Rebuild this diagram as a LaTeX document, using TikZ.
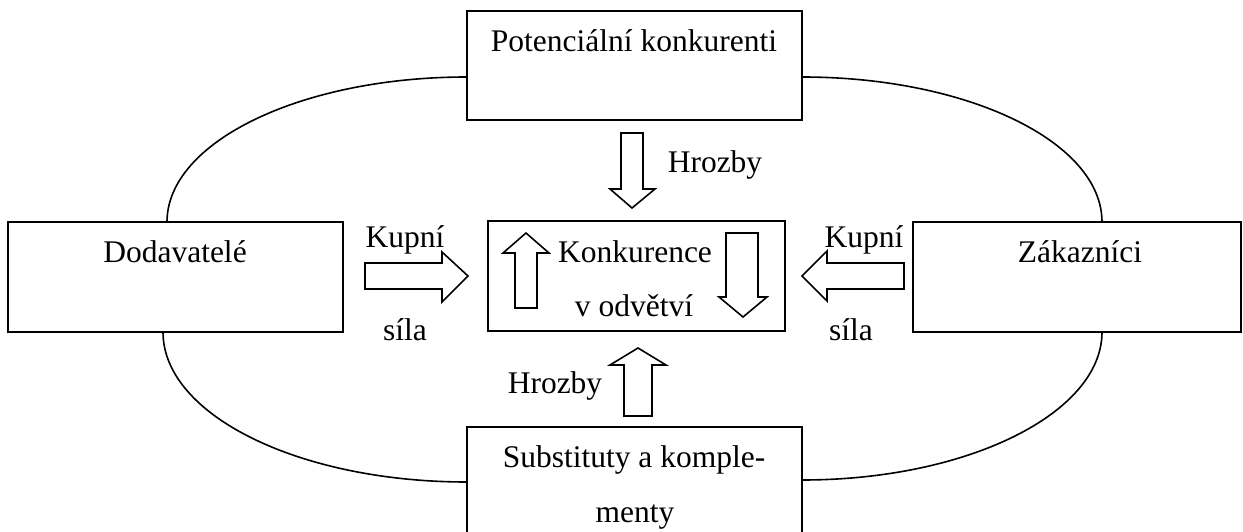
\documentclass[tikz,border=0pt]{standalone}
\usepackage{fontspec}
\setmainfont{Liberation Serif}
\usetikzlibrary{calc}
\begin{document}
\begin{tikzpicture}[x=1pt,y=-1pt,
  box/.style={draw,line width=1.6pt,rectangle,inner sep=0pt,outer sep=0pt,anchor=north west},
  lbl/.style={anchor=base,inner sep=0pt,font=\fontsize{31.5}{38}\selectfont},
  blockarrow/.style={draw,line width=1.6pt,line join=miter,fill=white},
  link/.style={draw,line width=1.6pt}]
\useasboundingbox (0,0) rectangle (1243,532);
\clip (0,0) rectangle (1243,532);

% the five boxes
\node[box,minimum width=335pt,minimum height=109pt] (top)    at (467,11)  {};
\node[box,minimum width=335pt,minimum height=110pt] (left)   at (8,222)   {};
\node[box,minimum width=328pt,minimum height=110pt] (right)  at (913,222) {};
\node[box,minimum width=297pt,minimum height=110pt] (centre) at (488,221) {};
\node[box,minimum width=335pt,minimum height=130pt] (bottom) at (467,427) {};

% box texts
\node[lbl] (t1) at (634,52)  {Potenciální konkurenti};
\node[lbl] (t2) at (175,262) {Dodavatelé};
\node[lbl] (t3) at (1080,262) {Zákazníci};
\node[lbl] (t4) at (635,262) {Konkurence};
\node[lbl] (t5) at (634,316) {v odvětví};
\node[lbl] (t6) at (634,467) {Substituty a komple-};
\node[lbl] (t7) at (635,522) {menty};

% arrow labels
\node[lbl] (h1) at (715,172) {Hrozby};
\node[lbl] (h2) at (555,393) {Hrozby};
\node[lbl] (k1) at (405,247) {Kupní};
\node[lbl] (s1) at (405,340) {síla};
\node[lbl] (k2) at (864,247) {Kupní};
\node[lbl] (s2) at (851,340) {síla};

% ellipse quarters linking the outer boxes
\coordinate (tw) at ($(top.north west)+(0,66)$);
\coordinate (te) at ($(top.north east)+(0,66)$);
\coordinate (bw) at ($(bottom.north west)+(0,55)$);
\coordinate (be) at ($(bottom.north east)+(0,53)$);
\coordinate (ln) at ($(left.north west)+(159,0)$);
\coordinate (ls) at ($(left.south west)+(155,0)$);
\coordinate (rn) at ($(right.north west)+(189,0)$);
\coordinate (rs) at ($(right.south west)+(189,0)$);
\path[link] (tw) .. controls +(-166,0) and +(0,-80) .. (ln);
\path[link] (te) .. controls +(166,0) and +(0,-80) .. (rn);
\path[link] (ls) .. controls +(0,83) and +(-168,0) .. (bw);
\path[link] (rs) .. controls +(0,81) and +(166,0) .. (be);

% block arrows
\draw[blockarrow] (621,133) -- (643,133) -- (643,189) -- (655,189) -- (632,208)
  -- (610,189) -- (621,189) -- cycle;
\draw[blockarrow] (515,308) -- (537,308) -- (537,253) -- (549,253) -- (526,233)
  -- (503,253) -- (515,253) -- cycle;
\draw[blockarrow] (726,233) -- (758,233) -- (758,297) -- (767,297) -- (743,317)
  -- (719,297) -- (726,297) -- cycle;
\draw[blockarrow] (624,416) -- (652,416) -- (652,365) -- (666,365) -- (638,348)
  -- (610,365) -- (624,365) -- cycle;
\draw[blockarrow] (365,263) -- (442,263) -- (442,252) -- (468,276) -- (442,302)
  -- (442,289) -- (365,289) -- cycle;
\draw[blockarrow] (904,263) -- (827,263) -- (827,251) -- (802,276) -- (827,301)
  -- (827,289) -- (904,289) -- cycle;
\end{tikzpicture}
\end{document}
